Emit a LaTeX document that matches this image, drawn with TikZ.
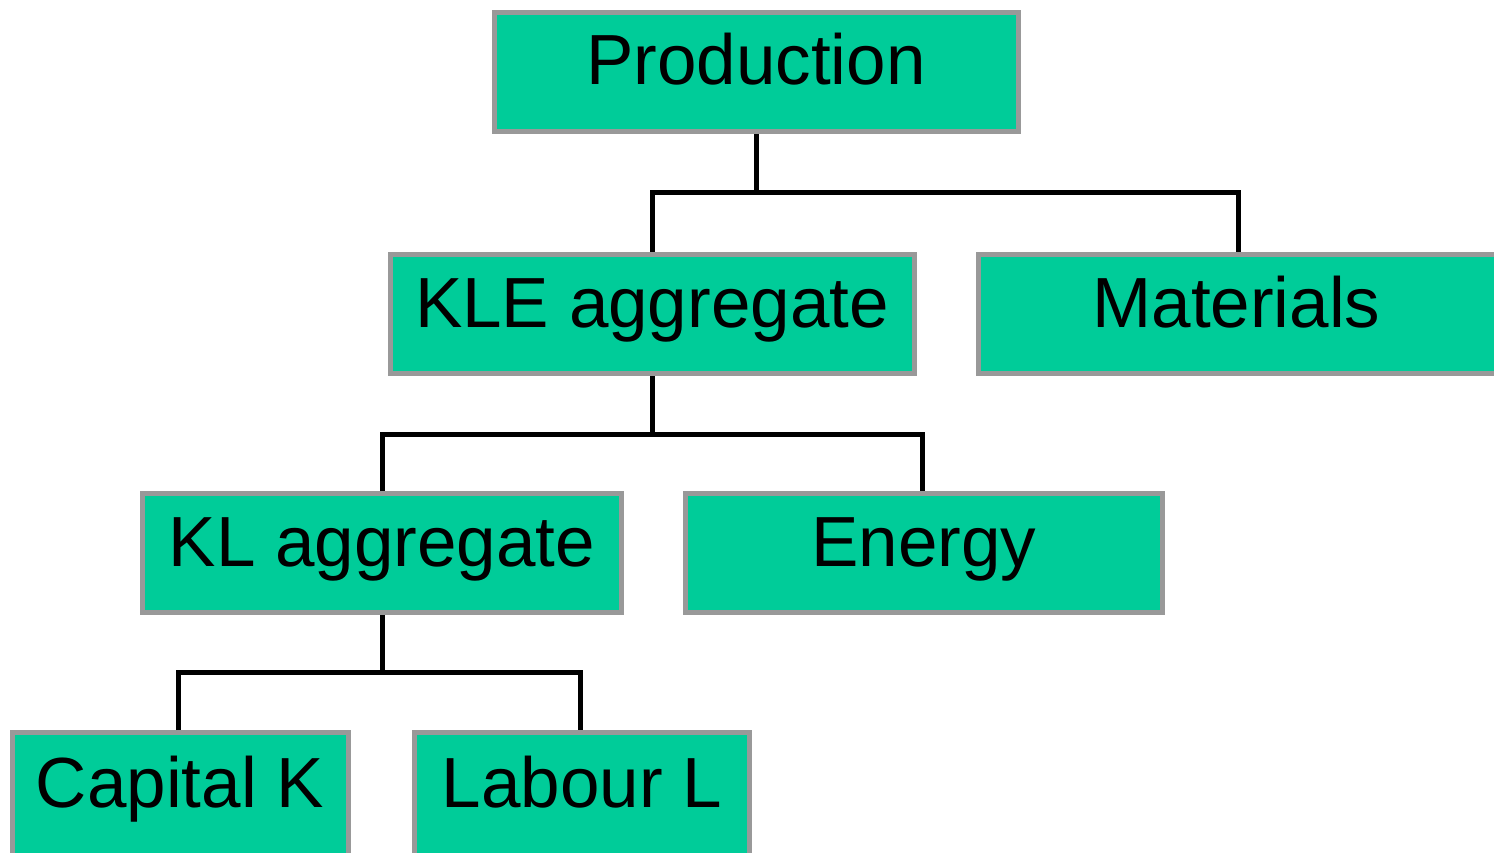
\documentclass[tikz,border=0pt]{standalone}
\usepackage{fontspec}
\setmainfont{Liberation Sans}
\definecolor{boxfill}{HTML}{00CC99}
\definecolor{boxline}{HTML}{999999}
\begin{document}
\begin{tikzpicture}[x=1pt,y=-1pt,
  blk/.style={draw=boxline,line width=5pt,fill=boxfill,rectangle,inner sep=0pt,
    text height=72.5pt,text depth=46.5pt,
    font=\fontsize{71}{80}\selectfont},
  conn/.style={draw=black,line width=5pt}]
\useasboundingbox (0,0) rectangle (1494,853);
\node[blk,minimum width=524pt] (prod) at (756,72) {Production};
\node[blk,minimum width=524pt] (kle) at (652,314) {KLE aggregate};
\node[blk,minimum width=560pt] (mat) at (1258.5,314) {\kern-44pt Materials};
\node[blk,minimum width=479pt] (kl) at (382,553) {KL aggregate};
\node[blk,minimum width=477pt] (en) at (924,553) {Energy};
\node[blk,minimum width=336pt,text height=74.5pt,text depth=54.5pt] (cap) at (180,797) {Capital K};
\node[blk,minimum width=335pt,text height=74.5pt,text depth=54.5pt] (lab) at (582,797) {Labour L};
\draw[conn] (prod.south) -- ++(0,59) coordinate (j1);
\draw[conn] (kle.north) |- (j1) -| ([xshift=-20.5pt]mat.north);
\draw[conn] (kle.south) -- ++(0,58) coordinate (j2);
\draw[conn] (kl.north) |- (j2) -| ([xshift=-2pt]en.north);
\draw[conn] (kl.south) -- ++(0,57) coordinate (j3);
\draw[conn] ([xshift=-2pt]cap.north) |- (j3) -| ([xshift=-2pt]lab.north);
\end{tikzpicture}
\end{document}
